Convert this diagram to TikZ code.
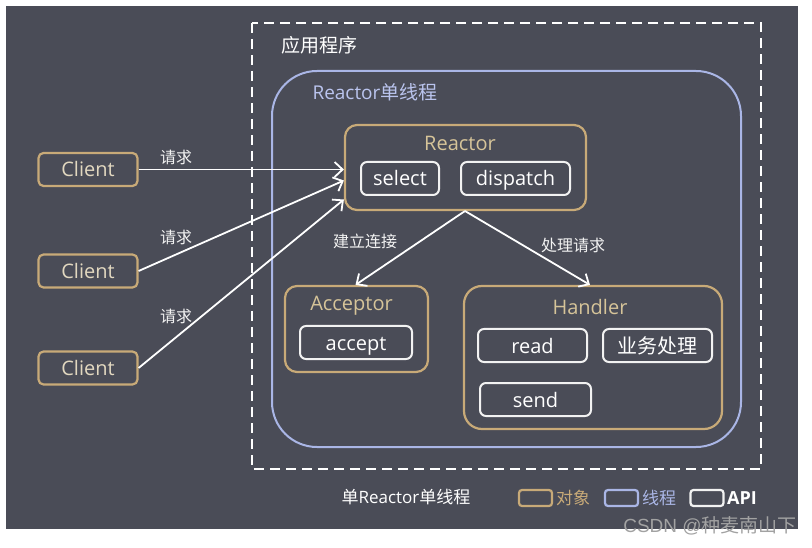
\documentclass[tikz,border=0pt]{standalone}
\usepackage{fontspec}
\setmainfont{Open Sans}
\newfontfamily\cjk{Noto Sans CJK SC}
\newfontfamily\marksans{Liberation Sans}
\usetikzlibrary{arrows.meta}
\definecolor{panel}{HTML}{4A4C57}
\definecolor{gold}{HTML}{C8AA78}
\definecolor{goldtext}{HTML}{D6C499}
\definecolor{clienttext}{HTML}{E2D8C0}
\definecolor{threadblue}{HTML}{AAB6E6}
\definecolor{threadtext}{HTML}{BAC4EE}
\definecolor{apiwhite}{HTML}{F2F2F2}
\definecolor{marktext}{HTML}{A2A2A2}
\tikzset{
  fs/.style={font=\fontsize{#1}{#1}\selectfont},
  even/.style={text height=15pt, text depth=0pt},
  objbox/.style={draw=gold, line width=2.2pt, rounded corners=#1, inner sep=0pt},
  objbox/.default=8pt,
  clientbox/.style={objbox=5pt, minimum width=99pt, minimum height=33pt,
    text=clienttext, fs=20, even},
  apibox/.style={draw=apiwhite, line width=2pt, rounded corners=6pt, inner sep=0pt,
    minimum height=33pt, text=white, fs=20, even},
  title/.style={text=goldtext, fs=20, inner sep=0pt, even},
  lbl/.style={text=apiwhite, fs=16, inner sep=0pt},
  flow/.style={draw=white, line width=1.8pt,
    -{Straight Barb[length=8pt,width=15pt,line width=1.8pt]}},
  legendbox/.style={line width=2.2pt, rounded corners=3pt, minimum width=33pt,
    minimum height=16pt, inner sep=0pt},
}
\begin{document}
\begin{tikzpicture}[x=1pt,y=-1pt]
\useasboundingbox (0,0) rectangle (812,548);
\fill[white] (0,0) rectangle (812,548);
\fill[panel] (6,6) rectangle (798,529);

% application frame and the single thread inside it
\draw[white, line width=2.4pt, dash pattern=on 10pt off 6pt] (252,23) rectangle (761,469);
\node[text=white, fs=19, inner sep=0pt] (app) at (319,45) {\cjk 应用程序};
\draw[threadblue, line width=2pt, rounded corners=45pt] (272,71) rectangle (741,447);
\node[text=threadtext, fs=19, inner sep=0pt] (thread) at (375,92) {Reactor\cjk 单线程};

% clients
\node[clientbox] (c1) at (88,169.5) {Client};
\node[clientbox] (c2) at (88,271) {Client};
\node[clientbox] (c3) at (88,368) {Client};

% Reactor object
\node[objbox=12pt, minimum width=241pt, minimum height=85pt] (reactor) at (465.5,167.5) {};
\node[title] (reactortitle) at (460,143) {Reactor};
\node[apibox, minimum width=78pt] (select) at (400,178.5) {select};
\node[apibox, minimum width=109pt] (dispatch) at (515.5,178.5) {dispatch};

% Acceptor object
\node[objbox=12pt, minimum width=143pt, minimum height=86pt] (acceptor) at (356.5,329) {};
\node[title] (acceptortitle) at (351.5,303) {Acceptor};
\node[apibox, minimum width=112pt] (accept) at (356,342.5) {accept};

% Handler object
\node[objbox=18pt, minimum width=258pt, minimum height=143pt] (handler) at (593,357.5) {};
\node[title] (handlertitle) at (590,307) {Handler};
\node[apibox, minimum width=109pt] (read) at (532.5,345.5) {read};
\node[apibox, minimum width=109pt] (biz) at (657.5,345.5) {\cjk 业务处理};
\node[apibox, minimum width=111pt] (send) at (535.5,399.5) {send};

% requests from the clients
\draw[flow] (c1.east) -- (c1.east -| reactor.west);
\draw[flow] (c2.east) -- ([yshift=-13pt]reactor.west);
\draw[flow] (c3.east) -- ([yshift=-32pt]reactor.west);
\node[lbl] (r1) at (176,157) {\cjk 请求};
\node[lbl] (r2) at (176,237) {\cjk 请求};
\node[lbl] (r3) at (176,316) {\cjk 请求};

% dispatching
\coordinate (fork) at (465,211);
\draw[flow] (fork) -- ([xshift=-1pt]acceptor.north);
\draw[flow] (fork) -- ([xshift=-3pt]handler.north);
\node[lbl] (connect) at (365,241) {\cjk 建立连接};
\node[lbl] (handle) at (573,245) {\cjk 处理请求};

% caption and legend
\node[text=white, fs=17, inner sep=0pt] (caption) at (406,497) {\cjk 单\fontspec{Open Sans}Reactor\cjk 单线程};
\node[legendbox, draw=gold] (lgobj) at (535.5,498) {};
\node[text=gold, fs=17, inner sep=0pt, anchor=west] (lgobjt) at (556,498) {\cjk 对象};
\node[legendbox, draw=threadblue] (lgthr) at (621.5,498) {};
\node[text=threadblue, fs=17, inner sep=0pt, anchor=west] (lgthrt) at (642,498) {\cjk 线程};
\node[legendbox, draw=apiwhite] (lgapi) at (707,498) {};
\node[text=white, inner sep=0pt, anchor=west, font={\fontsize{18}{18}\selectfont\bfseries}] (lgapit) at (727,498) {API};

% signature
\node[text=marktext, fs=19, inner sep=0pt] (mark) at (710,526) {\marksans CSDN @\cjk 种麦南山下};
\end{tikzpicture}
\end{document}
